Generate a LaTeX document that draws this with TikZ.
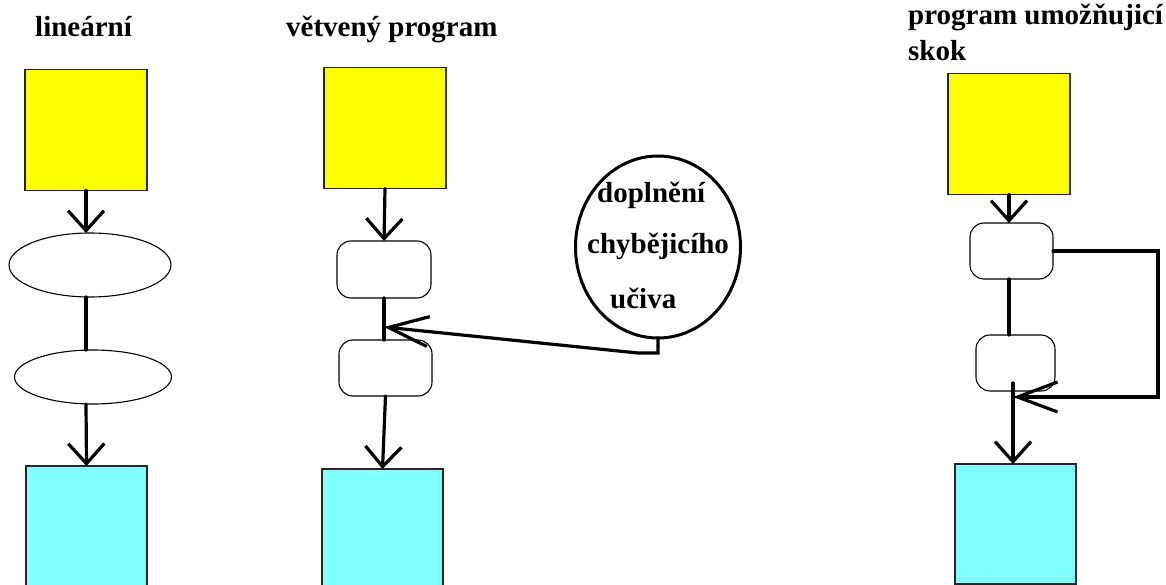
\documentclass[tikz,border=0pt]{standalone}
\usepackage{fontspec}
\setmainfont{Liberation Serif}
\usetikzlibrary{arrows.meta,shapes.geometric}
\definecolor{ybox}{HTML}{FFFF00}
\definecolor{cbox}{HTML}{80FFFF}
\begin{document}
\begin{tikzpicture}[x=1pt,y=-1pt,
  box/.style={draw=black!85, line width=1.5pt, inner sep=0pt, outer sep=0pt},
  yrect/.style={box, fill=ybox, minimum width=122pt, minimum height=121pt},
  crect/.style={box, fill=cbox, minimum width=121pt},
  rbox/.style={draw=black, line width=1.1pt, rounded corners=14pt, inner sep=0pt, outer sep=0pt},
  ell/.style={ellipse, draw=black, line width=1.1pt, inner sep=0pt, outer sep=0pt},
  conn/.style={line width=3.2pt, line cap=round, line join=miter},
  head/.style={-{Straight Barb[length=20pt,width=36pt]}},
  longhead/.style={-{Straight Barb[length=40pt,width=30pt]}},
  ttl/.style={font=\fontsize{29}{34}\selectfont\bfseries, inner sep=0pt, anchor=base west}]
\useasboundingbox (0,0) rectangle (1166,585);
\clip (0,0) rectangle (1166,585);
\fill[white] (0,0) rectangle (1166,585);

% titles
\node[ttl] (t1) at (35,37) {lineární};
\node[ttl] (t2) at (286,37) {větvený program};
\node[ttl] (t3) at (908,25) {program umožňujicí};
\node[ttl] (t4) at (908,61) {skok};

% ---------- linear ----------
\node[yrect] (y1) at (86,130) {};
\node[ell, minimum width=162pt, minimum height=64pt] (e1) at (90,265) {};
\node[ell, minimum width=157pt, minimum height=54pt] (e2) at (93,377) {};
\node[crect, minimum height=150pt] (c1) at (86.5,541) {};
\draw[conn,head] (y1.south) -- (y1.south |- e1.north);
\draw[conn] (e1.south -| y1.south) -- (e2.north -| y1.south);
\draw[conn,head] (e2.south -| y1.south) -- (c1.north);

% ---------- branched ----------
\node[yrect] (y2) at (385,128) {};
\node[rbox, minimum width=94pt, minimum height=57pt] (r1) at (384,269.5) {};
\node[rbox, minimum width=93pt, minimum height=56pt] (r2) at (385.5,368) {};
\node[crect, minimum height=150pt] (c2) at (382.5,544) {};
\node[ell, line width=3pt, minimum width=165pt, minimum height=182pt] (circ) at (658,247) {};
\node[ttl] (d1) at (597,203) {doplnění};
\node[ttl] (d2) at (587,253) {chybějicího};
\node[ttl] (d3) at (610,308) {učiva};
\coordinate (mj) at (384,327);
\draw[conn,head] (y2.south) -- (r1.north);
\draw[conn] (r1.south) -- (r1.south |- r2.north);
\draw[conn,head] (r2.south) -- (c2.north);
\draw[conn,longhead] (circ.south) -- ++(0,15) -- ++(-20,0) -- (mj);

% ---------- jump ----------
\node[yrect] (y3) at (1009,134) {};
\node[rbox, minimum width=83pt, minimum height=56pt] (r3) at (1011.5,251) {};
\node[rbox, minimum width=79pt, minimum height=56pt] (r4) at (1015.5,363) {};
\node[crect, minimum height=120pt] (c3) at (1015.5,524) {};
\coordinate (rj) at (1013,397);
\coordinate (rs) at (1013,383);
\draw[conn,head] (y3.south) -- (y3.south |- r3.north);
\draw[conn] (r3.south -| y3.south) -- (r4.north -| y3.south);
\draw[conn,longhead] (r3.east) -- ++(105,0) |- (rj);
\draw[conn,head] (rs) -- (rs |- c3.north);
\end{tikzpicture}
\end{document}
